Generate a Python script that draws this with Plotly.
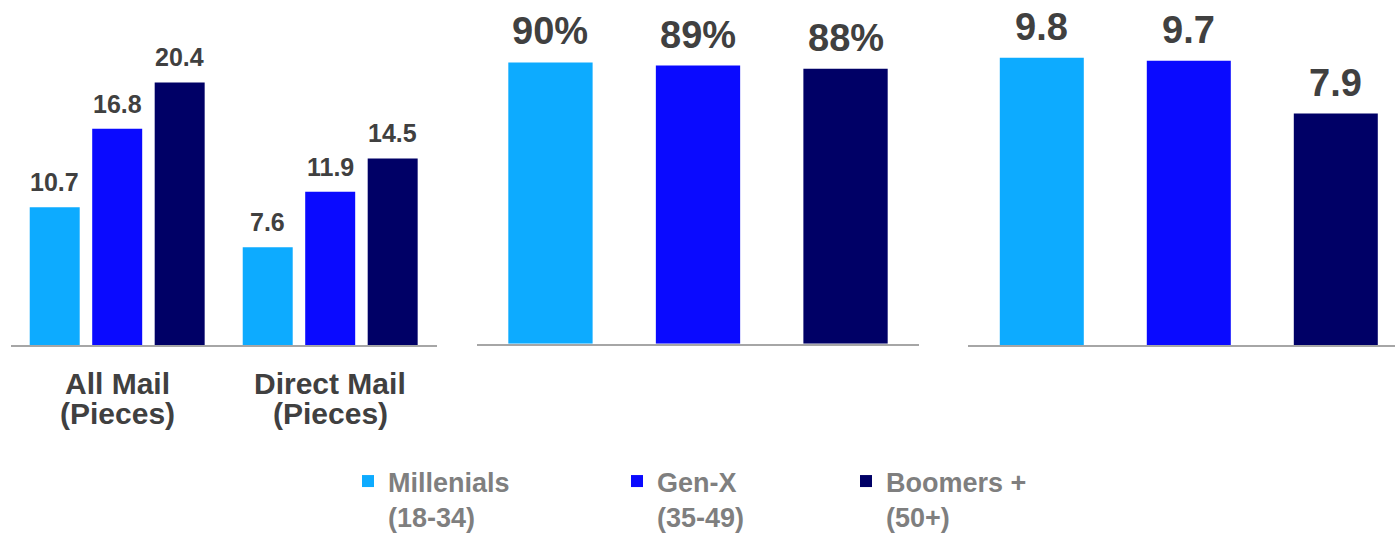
import plotly.graph_objects as go

W, H = 1395, 536

# ---------------- data ----------------
generations = ["Millenials<br>(18-34)", "Gen-X<br>(35-49)", "Boomers +<br>(50+)"]
gen_short = ["Millenials", "Gen-X", "Boomers +"]
gen_colors = ["#0DABFF", "#0A0AFF", "#000066"]

mail_categories = ["All Mail<br>(Pieces)", "Direct Mail<br>(Pieces)"]
millenials_mail = [10.7, 7.6]
genx_mail = [16.8, 11.9]
boomers_mail = [20.4, 14.5]
mail_series = [millenials_mail, genx_mail, boomers_mail]

pct_values = [90, 89, 88]
score_values = [9.8, 9.7, 7.9]

# ---------------- style ----------------
FONT = "Liberation Sans, Arial, Helvetica, sans-serif"
VAL_COLOR = "#404040"
LEG_COLOR = "#7F7F7F"
AXIS_COLOR = "#A6A6A6"
BARGAP = 0.12
BARGROUPGAP = 0.2
SINGLE_W = 84 / 147

fig = go.Figure()

legends = ["legend", "legend2", "legend3"]
for j, vals in enumerate(mail_series):
    fig.add_trace(go.Bar(
        x=mail_categories, y=vals, name=generations[j],
        marker=dict(color=gen_colors[j], line=dict(width=0)),
        xaxis="x", yaxis="y", legend=legends[j], hoverinfo="skip",
    ))

fig.add_trace(go.Bar(
    x=gen_short, y=pct_values, width=SINGLE_W, showlegend=False,
    marker=dict(color=gen_colors, line=dict(width=0)),
    xaxis="x2", yaxis="y2", hoverinfo="skip",
))
fig.add_trace(go.Bar(
    x=gen_short, y=score_values, width=SINGLE_W, showlegend=False,
    marker=dict(color=gen_colors, line=dict(width=0)),
    xaxis="x3", yaxis="y3", hoverinfo="skip",
))

annotations = []
# value labels, panel 1
slot = (1 - BARGAP) / 3
for j, vals in enumerate(mail_series):
    for i, v in enumerate(vals):
        annotations.append(dict(
            x=i + (j - 1) * slot, y=v, xref="x", yref="y",
            text=f"{v:.1f}", showarrow=False, xanchor="center", yanchor="bottom",
            yshift=9, font=dict(family=FONT, size=25, color=VAL_COLOR, weight="bold"),
        ))
# value labels, panel 2 & 3
for i, v in enumerate(pct_values):
    annotations.append(dict(
        x=gen_short[i], y=v, xref="x2", yref="y2", text=f"{v}%", showarrow=False,
        xanchor="center", yanchor="bottom", yshift=8,
        font=dict(family=FONT, size=38, color=VAL_COLOR, weight="bold"),
    ))
for i, v in enumerate(score_values):
    annotations.append(dict(
        x=gen_short[i], y=v, xref="x3", yref="y3", text=f"{v:.1f}", showarrow=False,
        xanchor="center", yanchor="bottom", yshift=8,
        font=dict(family=FONT, size=38, color=VAL_COLOR, weight="bold"),
    ))
# category labels (two lines each)
line_tops = [365, 395]
for cat in mail_categories:
    for k, line in enumerate(cat.split("<br>")):
        annotations.append(dict(
            x=cat, y=(H - line_tops[k]) / H, xref="x", yref="paper", text=line,
            showarrow=False, xanchor="center", yanchor="top",
            font=dict(family=FONT, size=30, color=VAL_COLOR, weight="bold"),
        ))

leg_common = dict(
    orientation="v", xanchor="left", yanchor="top", valign="top",
    bgcolor="rgba(0,0,0,0)", borderwidth=0,
    font=dict(family=FONT, size=27, color=LEG_COLOR, weight="bold"),
)
leg_y = (H - 457) / H

fig.update_layout(
    width=W, height=H,
    margin=dict(l=0, r=0, t=0, b=0, pad=0, autoexpand=False),
    paper_bgcolor="white", plot_bgcolor="white",
    barmode="group", bargap=BARGAP, bargroupgap=BARGROUPGAP,
    showlegend=True,
    legend=dict(x=348 / W, y=leg_y, **leg_common),
    legend2=dict(x=617 / W, y=leg_y, **leg_common),
    legend3=dict(x=846 / W, y=leg_y, **leg_common),
    annotations=annotations,
    xaxis=dict(domain=[10.7 / W, 436.7 / W], range=[-0.5, 1.5], showticklabels=False,
               showline=True, linecolor=AXIS_COLOR, linewidth=2, ticks="", showgrid=False,
               zeroline=False, fixedrange=True),
    yaxis=dict(domain=[(H - 345) / H, 1], range=[0, 345 / 12.87], visible=False,
               showgrid=False, zeroline=False, fixedrange=True),
    xaxis2=dict(domain=[476.7 / W, 919.3 / W], range=[-0.5, 2.5], showticklabels=False,
                showline=True, linecolor=AXIS_COLOR, linewidth=2, ticks="", showgrid=False,
                zeroline=False, anchor="y2", fixedrange=True),
    yaxis2=dict(domain=[(H - 343.7) / H, 1], range=[0, 343.7 / 3.125], visible=False,
                showgrid=False, zeroline=False, anchor="x2", fixedrange=True),
    xaxis3=dict(domain=[968.3 / W, 1], range=[-0.5, -0.5 + (W - 968.3) / 147],
                showticklabels=False, showline=True, linecolor=AXIS_COLOR, linewidth=2,
                ticks="", showgrid=False, zeroline=False, anchor="y3", fixedrange=True),
    yaxis3=dict(domain=[(H - 345) / H, 1], range=[0, 345 / 29.3], visible=False,
                showgrid=False, zeroline=False, anchor="x3", fixedrange=True),
)

fig.write_html("out.html", config=dict(displayModeBar=False))
